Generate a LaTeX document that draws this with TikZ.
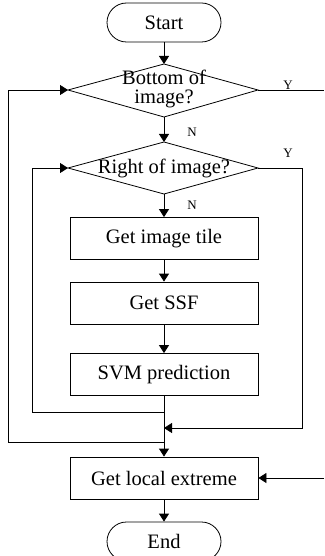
\documentclass[tikz,border=0pt]{standalone}
\usepackage{fontspec}
\setmainfont{Liberation Serif}
\usetikzlibrary{arrows.meta}
\begin{document}
\begin{tikzpicture}[x=1pt,y=-1pt,
  every node/.style={font=\fontsize{20.5}{19}\selectfont},
  term/.style={draw, line width=0.8pt, rounded corners=19.5pt, minimum width=114pt, minimum height=39pt, inner sep=0pt},
  procbox/.style={draw, line width=0.8pt, minimum width=188pt, minimum height=42pt, inner sep=0pt},
  lbl/.style={font=\fontsize{13}{13}\selectfont, inner sep=0pt},
  ln/.style={line width=0.8pt},
  arr/.style={line width=0.8pt, -{Triangle[width=10pt,length=8pt]}},
  dtext/.style={inner sep=0pt, align=center}]
\clip (0,0) rectangle (324,556);
\useasboundingbox (0,0) rectangle (324,556);
% terminals and boxes
\node[term] (start) at (164,22.5) {Start};
\coordinate (d1t) at (164,64);
\coordinate (d1r) at (258,90);
\coordinate (d1b) at (164,117);
\coordinate (d1l) at (68,90);
\draw[ln] (d1t) -- (d1r) -- (d1b) -- (d1l) -- cycle;
\node[dtext] (d1) at (164,89) {Bottom of\\image?};
\coordinate (d2t) at (164,142);
\coordinate (d2r) at (258,168);
\coordinate (d2b) at (164,194);
\coordinate (d2l) at (68,168);
\draw[ln] (d2t) -- (d2r) -- (d2b) -- (d2l) -- cycle;
\node[dtext] (d2) at (164,168) {Right of image?};
\node[procbox] (tile) at (164,238.5) {Get image tile};
\node[procbox] (ssf) at (164,303) {Get SSF};
\node[procbox] (svm) at (164,374.5) {SVM prediction};
\node[procbox] (gle) at (164,478) {Get local extreme};
\node[term] (end) at (164,541.5) {End};
% helper coordinates
\coordinate (j1) at (164,412);
\coordinate (j2) at (164,428);
\coordinate (j3) at (164,442);
\coordinate (l1b) at (32,412);
\coordinate (l1t) at (32,168);
\coordinate (l2b) at (8,442);
\coordinate (l2t) at (8,90);
\coordinate (r1t) at (302,168);
\coordinate (r1b) at (302,428);
\coordinate (e1) at (324,90);
\coordinate (e2) at (324,478);
% connectors
\draw[arr] (start.south) -- (d1t);
\draw[arr] (d1b) -- (d2t);
\draw[arr] (d2b) -- (tile.north);
\draw[arr] (tile.south) -- (ssf.north);
\draw[arr] (ssf.south) -- (svm.north);
\draw[arr] (svm.south) -- (gle.north);
\draw[arr] (gle.south) -- (end.north);
\draw[arr] (j1) -- (l1b) -- (l1t) -- (d2l);
\draw[arr] (j3) -- (l2b) -- (l2t) -- (d1l);
\draw[arr] (d2r) -- (r1t) -- (r1b) -- (j2);
\draw[ln] (d1r) -- (e1);
\draw[arr] (e2) -- (gle.east);
% labels
\node[lbl] (y1) at (288,85) {Y};
\node[lbl] (y2) at (288,153) {Y};
\node[lbl] (n1) at (192,132) {N};
\node[lbl] (n2) at (192,205) {N};
\end{tikzpicture}
\end{document}
